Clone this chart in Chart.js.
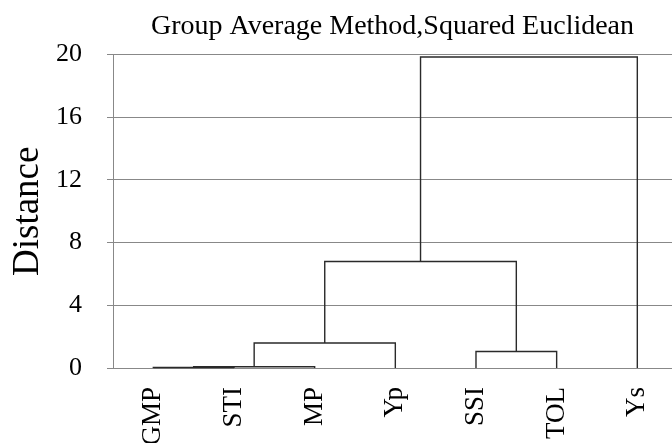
<!DOCTYPE html>
<html>
<head>
<meta charset="utf-8">
<script src="https://cdn.jsdelivr.net/npm/chart.js@4/dist/chart.umd.min.js"></script>
<style>
  body { margin: 0; background: #fff; overflow: hidden; }
  #wrap { width: 672px; height: 443px; }
</style>
</head>
<body>
<div id="wrap"><canvas id="dendro"></canvas></div>
<script>
// leaves of the dendrogram, left to right
var leafLabels = ['GMP', 'STI', 'MP', 'Yp', 'SSI', 'TOL', 'Ys'];

// merges: node ids 0..6 are leaves, merge k creates node 7+k
var mergeLeft = [0, 7, 4, 8, 10, 11];
var mergeRight = [1, 2, 5, 3, 9, 6];
var mergeHeight = [0.03, 0.08, 1.05, 1.6, 6.8, 19.85];

var yMin = 0, yMax = 20, yStep = 4;

// node positions follow the tree: leaf i sits at i, a cluster at the mean of its children
var nodeX = leafLabels.map(function (l, i) { return i; });
var nodeH = leafLabels.map(function () { return 0; });
var links = [];
for (var k = 0; k < mergeHeight.length; k++) {
    var l = mergeLeft[k], r = mergeRight[k], h = mergeHeight[k];
    links.push({
        data: [
            {x: nodeX[l], y: nodeH[l]},
            {x: nodeX[l], y: h},
            {x: nodeX[r], y: h},
            {x: nodeX[r], y: nodeH[r]}
        ],
        showLine: true,
        borderColor: '#2a2a2a',
        borderWidth: 1.4,
        pointRadius: 0,
        clip: false
    });
    nodeX.push((nodeX[l] + nodeX[r]) / 2);
    nodeH.push(h);
}

var serif = 'Liberation Serif';

new Chart(document.getElementById('dendro').getContext('2d'), {
    type: 'scatter',
    data: { datasets: links },
    options: {
        responsive: true,
        maintainAspectRatio: false,
        animation: false,
        layout: { padding: 0 },
        plugins: {
            legend: { display: false },
            tooltip: { enabled: false },
            title: {
                display: true,
                fullSize: false,
                text: 'Group Average Method,Squared Euclidean',
                color: '#000',
                font: { family: serif, size: 28, weight: 'normal' },
                padding: { top: 10, bottom: 11 }
            }
        },
        scales: {
            x: {
                type: 'linear',
                min: -0.5,
                max: 6.43,
                grid: { display: false },
                border: { color: '#888' },
                afterBuildTicks: function (axis) {
                    axis.ticks = leafLabels.map(function (l, i) { return {value: i}; });
                },
                afterFit: function (axis) {
                    // labels run off the bottom edge like in the original
                    axis.height = 75;
                    axis.paddingLeft = 0;
                    axis.paddingRight = 0;
                },
                ticks: {
                    autoSkip: false,
                    minRotation: 90,
                    maxRotation: 90,
                    padding: 11,
                    color: '#000',
                    font: { family: serif, size: 27 },
                    callback: function (v) { return leafLabels[v]; }
                }
            },
            y: {
                min: yMin,
                max: yMax,
                grid: { color: '#888', tickLength: 6 },
                border: { color: '#888' },
                afterFit: function (axis) {
                    axis.width = 113;
                },
                ticks: {
                    stepSize: yStep,
                    padding: 25,
                    color: '#000',
                    font: { family: serif, size: 26 }
                },
                title: {
                    display: true,
                    text: 'Distance',
                    color: '#000',
                    font: { family: serif, size: 37 },
                    padding: { top: 6, bottom: 0 }
                }
            }
        }
    }
});
</script>
</body>
</html>
